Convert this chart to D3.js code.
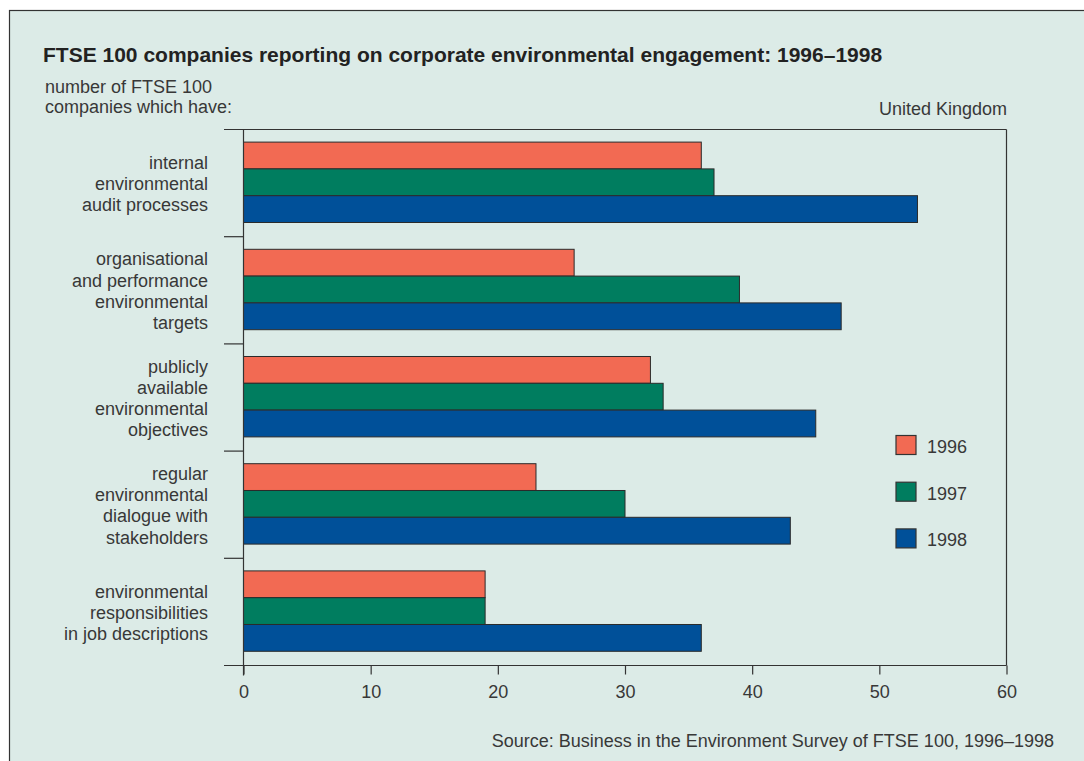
<!DOCTYPE html>
<html>
<head>
<meta charset="utf-8">
<script src="https://cdn.jsdelivr.net/npm/d3@7"></script>
<style>
  html, body { margin: 0; padding: 0; background: #ffffff; }
  svg { display: block; }
  text { font-family: "Liberation Sans", Arial, Helvetica, sans-serif; fill: #383838; }
</style>
</head>
<body>
<svg id="chart" width="1084" height="761"></svg>
<script>
// Categories (each label split into its printed lines)
const categories = [
  ["internal", "environmental", "audit processes"],
  ["organisational", "and performance", "environmental", "targets"],
  ["publicly", "available", "environmental", "objectives"],
  ["regular", "environmental", "dialogue with", "stakeholders"],
  ["environmental", "responsibilities", "in job descriptions"]
];
const years = ["1996", "1997", "1998"];
const values1996 = [36, 26, 32, 23, 19];
const values1997 = [37, 39, 33, 30, 19];
const values1998 = [53, 47, 45, 43, 36];
const xTicks = [0, 10, 20, 30, 40, 50, 60];
const colors = ["#f26a53", "#007d5f", "#005099"];

const seriesValues = [values1996, values1997, values1998];

const svg = d3.select("#chart");

// Panel background with border
svg.append("rect")
  .attr("x", 9.5).attr("y", 10.5)
  .attr("width", 1090).attr("height", 770)
  .attr("fill", "#dcebe7")
  .attr("stroke", "#333333").attr("stroke-width", 1.2);

const plot = { left: 243.5, right: 1006.5, top: 129.5, bottom: 665.5 };

const x = d3.scaleLinear().domain([0, 60]).range([plot.left, plot.right]);
const catIdx = d3.range(categories.length);
const y = d3.scaleBand().domain(catIdx).range([plot.top, plot.bottom]);
const ySub = d3.scaleBand().domain(d3.range(years.length))
  .range([0, y.bandwidth()]).paddingOuter(0.5).paddingInner(0).align(0.47);

// Title and headings
svg.append("text")
  .attr("x", 43).attr("y", 62)
  .style("font-weight", "bold").style("font-size", "21px")
  .style("fill", "#222")
  .text("FTSE 100 companies reporting on corporate environmental engagement: 1996\u20131998");

svg.append("text").attr("x", 45).attr("y", 93).style("font-size", "18px").text("number of FTSE 100");
svg.append("text").attr("x", 45).attr("y", 113).style("font-size", "18px").text("companies which have:");
svg.append("text").attr("x", 1007).attr("y", 115).attr("text-anchor", "end")
  .style("font-size", "18px").text("United Kingdom");

// Frame lines (top and right)
svg.append("line").attr("x1", 224).attr("x2", plot.right).attr("y1", plot.top).attr("y2", plot.top)
  .attr("stroke", "#333").attr("stroke-width", 1.2);
svg.append("line").attr("x1", plot.right).attr("x2", plot.right).attr("y1", plot.top).attr("y2", plot.bottom)
  .attr("stroke", "#333").attr("stroke-width", 1.2);

// Bars
const groups = svg.append("g").selectAll("g")
  .data(catIdx).join("g")
  .attr("transform", i => `translate(0,${y(i)})`);

groups.selectAll("rect")
  .data(i => seriesValues.map((s, k) => ({ k, v: s[i] })))
  .join("rect")
  .attr("x", x(0))
  .attr("y", d => ySub(d.k))
  .attr("width", d => x(d.v) - x(0))
  .attr("height", ySub.bandwidth())
  .attr("fill", d => colors[d.k])
  .attr("stroke", "#2b2b2b").attr("stroke-width", 1);

// Category separator ticks on the left axis
svg.append("g").selectAll("line")
  .data(d3.range(1, categories.length))
  .join("line")
  .attr("x1", 224).attr("x2", plot.left)
  .attr("y1", i => y(i)).attr("y2", i => y(i))
  .attr("stroke", "#333").attr("stroke-width", 1.2);

// Category labels
const lineH = 21.3;
svg.append("g").selectAll("text")
  .data(catIdx).join("text")
  .attr("text-anchor", "end")
  .style("font-size", "18px")
  .each(function (i) {
    const lines = categories[i];
    const cy = y(i) + y.bandwidth() / 2;
    const y0 = cy - (lines.length - 1) * lineH / 2 + 7;
    d3.select(this).selectAll("tspan").data(lines).join("tspan")
      .attr("x", 208)
      .attr("y", (d, j) => y0 + j * lineH)
      .text(d => d);
  });

// Left axis line
svg.append("line").attr("x1", plot.left).attr("x2", plot.left)
  .attr("y1", plot.top).attr("y2", plot.bottom + 10)
  .attr("stroke", "#333").attr("stroke-width", 1.2);

// Bottom axis
const xAxis = d3.axisBottom(x).tickValues(xTicks).tickSize(9).tickPadding(11).tickSizeOuter(0);
const gx = svg.append("g").attr("transform", `translate(0,${plot.bottom})`).call(xAxis);
gx.select(".domain").remove();
gx.selectAll(".tick line").attr("stroke", "#333").attr("stroke-width", 1.2);
gx.selectAll(".tick text").style("font-size", "18px").style("fill", "#383838")
  .attr("font-family", null);
svg.append("line").attr("x1", 224).attr("x2", plot.right).attr("y1", plot.bottom).attr("y2", plot.bottom)
  .attr("stroke", "#333").attr("stroke-width", 1.2);

// Legend
const legend = svg.append("g").selectAll("g")
  .data(years).join("g")
  .attr("transform", (d, k) => `translate(896,${435.5 + k * 46.7})`);
legend.append("rect")
  .attr("width", 20).attr("height", 19)
  .attr("fill", (d, k) => colors[k])
  .attr("stroke", "#333").attr("stroke-width", 1.2);
legend.append("text")
  .attr("x", 31).attr("y", 17.5)
  .style("font-size", "18px")
  .text(d => d);

// Source note
svg.append("text")
  .attr("x", 1054).attr("y", 747).attr("text-anchor", "end")
  .style("font-size", "18px")
  .text("Source: Business in the Environment Survey of FTSE 100, 1996\u20131998");
</script>
</body>
</html>
